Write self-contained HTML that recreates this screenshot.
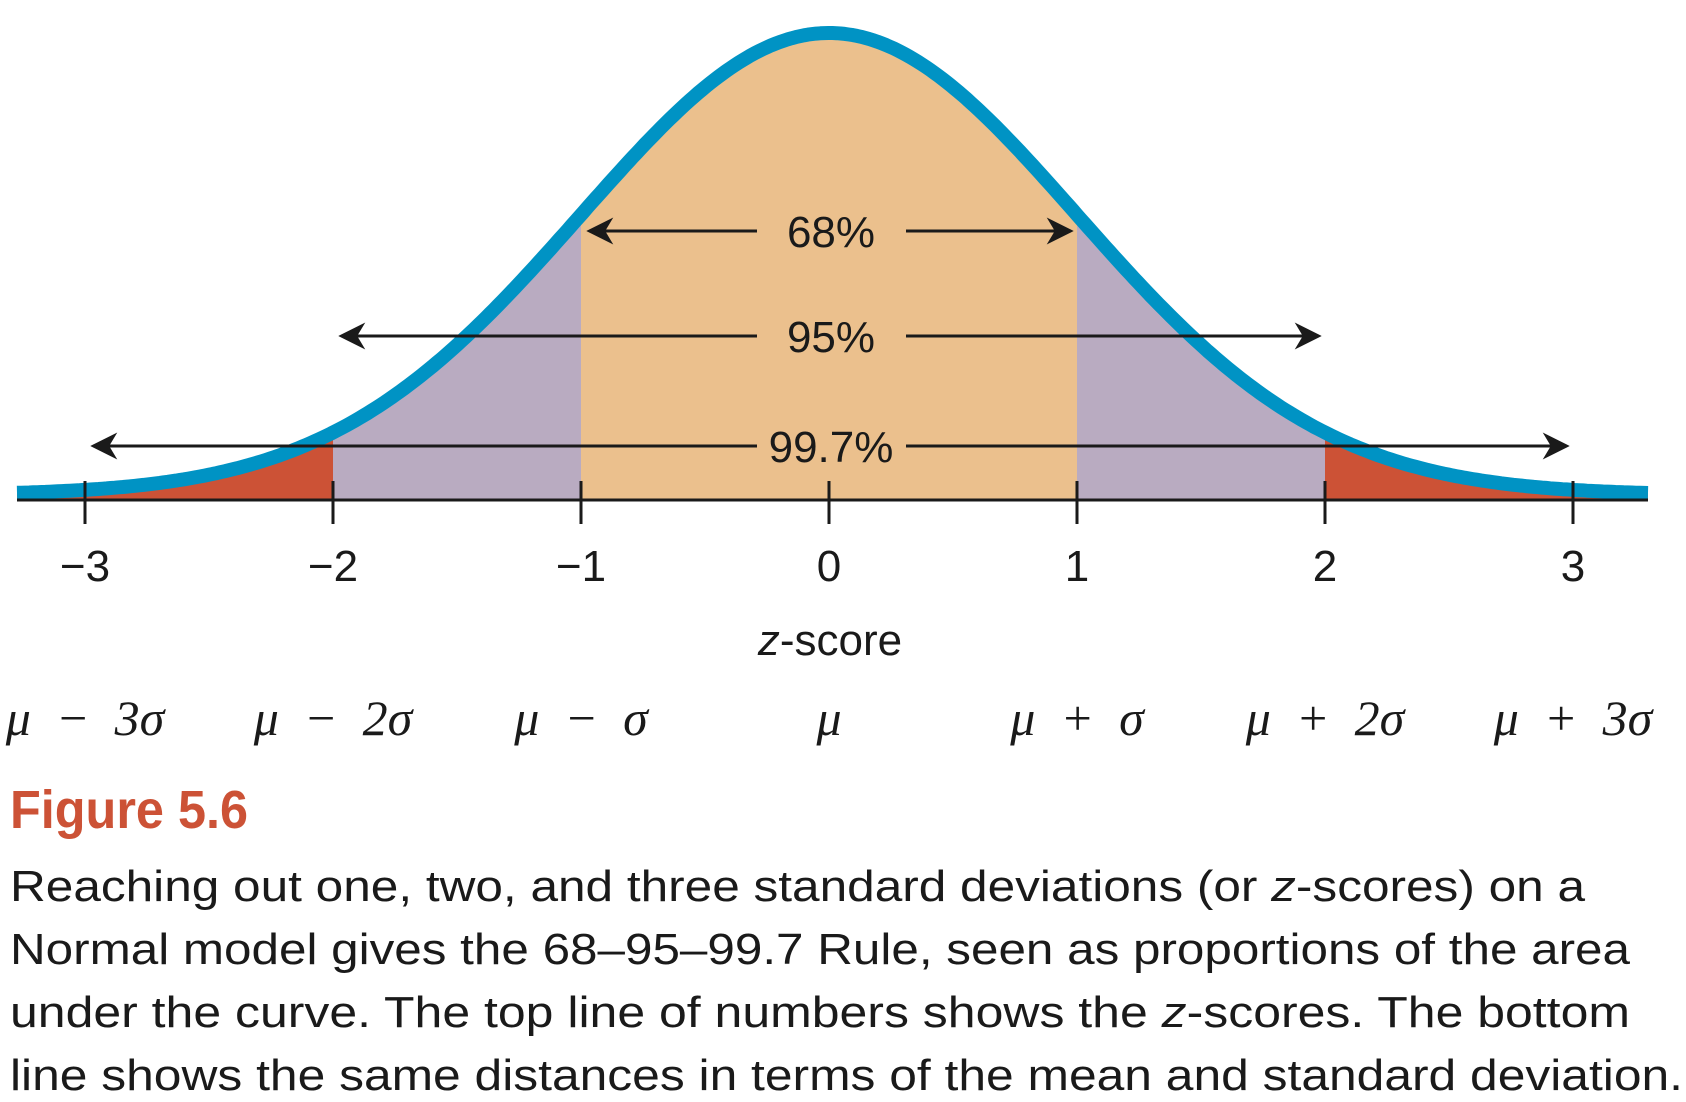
<!DOCTYPE html>
<html><head><meta charset="utf-8"><style>
html,body{margin:0;padding:0;background:#fff}
svg{display:block}
text{font-family:"Liberation Sans Narrow","Liberation Sans",sans-serif;fill:#1a1a1a}
.mu{font-family:"Liberation Serif",serif;font-style:italic}
</style></head><body>
<svg id="chart" width="1686" height="1102" viewBox="0 0 1686 1102">
<defs><marker id="ah" viewBox="0 0 10 10" refX="9" refY="5" markerWidth="9" markerHeight="9" orient="auto-start-reverse"><path d="M0,0 L10,5 L0,10 L3,5 Z" fill="#1a1a1a"/></marker></defs>
<g id="areas"></g>
<path id="curve" fill="none" stroke="#0093C4" stroke-width="14" stroke-linejoin="round"/>
<line x1="17" y1="500" x2="1648" y2="500" stroke="#1a1a1a" stroke-width="3"/>
<g id="ticks"></g>
<g id="arrows"></g>
<text x="830" y="655" text-anchor="middle" font-size="44"><tspan font-style="italic">z</tspan>-score</text>
<g id="mus"></g>
<text x="10" y="828" font-size="54" font-weight="bold" textLength="238" lengthAdjust="spacingAndGlyphs" style="fill:#CC5236">Figure 5.6</text>
<g font-size="44">
<text x="10" y="901" textLength="1575" lengthAdjust="spacingAndGlyphs">Reaching out one, two, and three standard deviations (or <tspan font-style="italic">z</tspan>-scores) on a</text>
<text x="10" y="964" textLength="1620" lengthAdjust="spacingAndGlyphs">Normal model gives the 68–95–99.7 Rule, seen as proportions of the area</text>
<text x="10" y="1027" textLength="1620" lengthAdjust="spacingAndGlyphs">under the curve. The top line of numbers shows the <tspan font-style="italic">z</tspan>-scores. The bottom</text>
<text x="10" y="1090" textLength="1673" lengthAdjust="spacingAndGlyphs">line shows the same distances in terms of the mean and standard deviation.</text>
</g>
</svg>
<script>
const tickValues=[-3,-2,-1,0,1,2,3];
const tickLabels=["−3","−2","−1","0","1","2","3"];
const muLabels=["μ  −  3σ","μ  −  2σ","μ  −  σ","μ","μ  +  σ","μ  +  2σ","μ  +  3σ"];
const bandLower=[-1,-2,-3];
const bandUpper=[1,2,3];
const bandPercents=["68%","95%","99.7%"];
const regionEdges=[-3.4,-2,-1,1,2,3.4];
const regionColors=["#CC5236","#B9ABC1","#EBC08D","#B9ABC1","#CC5236"];
const NS="http://www.w3.org/2000/svg";
const X=z=>829+248*z, Y=d=>495-462*d;
const pdf=z=>Math.exp(-z*z/2);
function el(t,a,p){const e=document.createElementNS(NS,t);for(const k in a)e.setAttribute(k,a[k]);p.appendChild(e);return e;}
const xmin=(17-829)/248,xmax=(1648-829)/248;
let d="";for(let i=0;i<=400;i++){const z=xmin+(xmax-xmin)*i/400;d+=(i?"L":"M")+X(z).toFixed(1)+","+Y(pdf(z)).toFixed(1);}
document.getElementById('curve').setAttribute('d',d);
const areas=document.getElementById('areas');
for(let r=0;r<regionColors.length;r++){
 const a=Math.max(regionEdges[r],xmin),b=Math.min(regionEdges[r+1],xmax);
 let p="M"+X(a)+",500";for(let i=0;i<=80;i++){const z=a+(b-a)*i/80;p+="L"+X(z).toFixed(1)+","+Y(pdf(z)).toFixed(1);}p+="L"+X(b)+",500Z";
 const e=el('path',{d:p,fill:regionColors[r]},areas);
 
 
}
const ticks=document.getElementById('ticks');
tickValues.forEach((v,i)=>{
 const l=el('line',{x1:X(v),x2:X(v),y1:481,y2:524,stroke:'#1a1a1a','stroke-width':3},ticks);
 
 
 const t=el('text',{x:X(v),y:581,'text-anchor':'middle','font-size':44},ticks);t.textContent=tickLabels[i];
 
 
});
const mus=document.getElementById('mus');
muLabels.forEach((m,i)=>{
 const t=el('text',{x:X(tickValues[i]),y:735,'text-anchor':'middle','font-size':50,class:'mu','xml:space':'preserve'},mus);t.textContent=m;
 t.setAttribute('style','white-space:pre');
 
 
});
const arrows=document.getElementById('arrows');
const ay=[231,336,446];
bandPercents.forEach((p,i)=>{
 const a=el('line',{x1:X(bandLower[i])+8,x2:757,y1:ay[i],y2:ay[i],stroke:'#1a1a1a','stroke-width':3,'marker-start':'url(#ah)'},arrows);
 
 
 const b=el('line',{x1:906,x2:X(bandUpper[i])-6,y1:ay[i],y2:ay[i],stroke:'#1a1a1a','stroke-width':3,'marker-end':'url(#ah)'},arrows);
 
 
 const t=el('text',{x:831,y:ay[i]+16,'text-anchor':'middle','font-size':44},arrows);t.textContent=p;
 
 
});
</script>
</body></html>
